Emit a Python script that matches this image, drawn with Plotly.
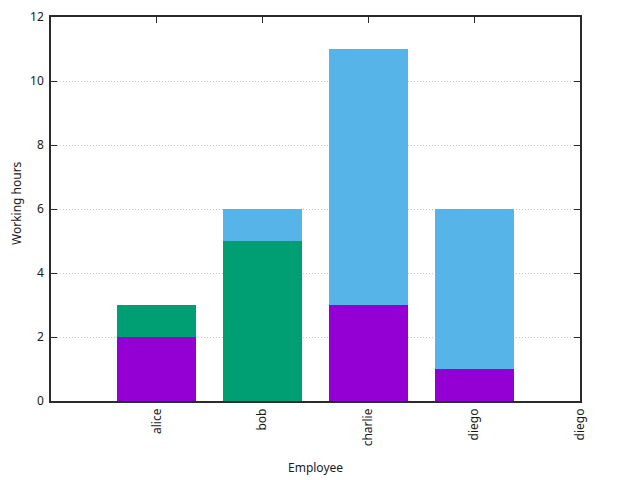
import plotly.graph_objects as go

employees = ["alice", "bob", "charlie", "diego"]
positions = [1, 2, 3, 4]
tick_positions = [1, 2, 3, 4, 5]
tick_labels = ["alice", "bob", "charlie", "diego", "diego"]

series_a = [2, 0, 3, 1]   # purple
series_b = [1, 5, 0, 0]   # green
series_c = [0, 1, 8, 5]   # blue

colors = ["#9400d3", "#009e73", "#56b4e9"]
names = ["A", "B", "C"]

fig = go.Figure()
for vals, col, nm in zip([series_a, series_b, series_c], colors, names):
    fig.add_trace(go.Bar(
        x=positions, y=vals, width=0.75, name=nm,
        marker=dict(color=col, line=dict(width=0)),
    ))

axis_col = "#2b2b2b"
font = dict(family="Noto Sans", size=12, color="#1a1a1a")

fig.update_layout(
    barmode="stack",
    width=632, height=472,
    margin=dict(l=43, r=60, t=9, b=79, autoexpand=False),
    paper_bgcolor="white", plot_bgcolor="white",
    showlegend=False,
    font=font,
    xaxis=dict(
        range=[0, 5], tickvals=tick_positions, ticktext=tick_labels,
        tickangle=-90, ticks="inside", ticklen=6, tickcolor=axis_col, tickwidth=1.2,
        showline=True, linecolor=axis_col, linewidth=1.5, mirror="ticks",
        showgrid=False, zeroline=False, layer="below traces", automargin=False,
        ticklabelstandoff=1,
    ),
    yaxis=dict(
        range=[0, 12], dtick=2, ticks="inside", ticklen=6, tickcolor=axis_col, tickwidth=1.2,
        showline=True, linecolor=axis_col, linewidth=1.5, mirror="ticks",
        showgrid=True, gridcolor="#c4c4c4", griddash="1px,2px", gridwidth=1,
        zeroline=False, automargin=False,
        ticklabelstandoff=3,
    ),
    annotations=[
        dict(text="Employee", xref="paper", yref="paper", x=0.5, y=0,
             xanchor="center", yanchor="middle", yshift=-66, showarrow=False,
             font=font),
        dict(text="Working hours", xref="paper", yref="paper", x=0, y=0.5,
             xanchor="center", yanchor="middle", xshift=-35, yshift=6,
             textangle=-90, showarrow=False, font=font),
    ],
)

fig.write_html("out.html")
